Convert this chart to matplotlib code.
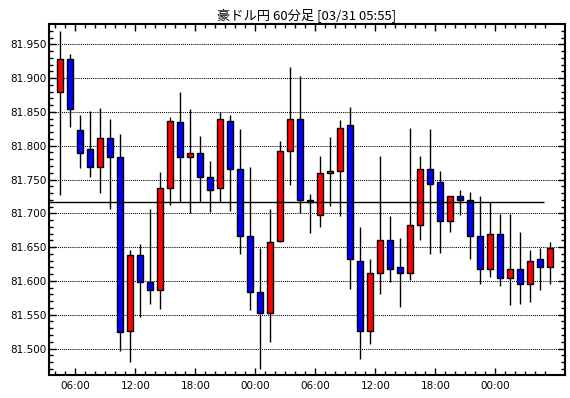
import matplotlib
matplotlib.use("Agg")
import matplotlib.pyplot as plt
from matplotlib.ticker import MultipleLocator, FixedLocator

# 60-minute candles, first one is the 04:00 hour
start_hour = 4
opens = [81.879, 81.928, 81.823, 81.795, 81.768, 81.812, 81.783, 81.526, 81.638, 81.599,
         81.587, 81.737, 81.835, 81.783, 81.789, 81.754, 81.737, 81.837, 81.765, 81.666,
         81.584, 81.552, 81.659, 81.792, 81.840, 81.720, 81.698, 81.759, 81.762, 81.830,
         81.630, 81.526, 81.611, 81.660, 81.620, 81.611, 81.682, 81.765, 81.747, 81.688,
         81.725, 81.720, 81.667, 81.618, 81.669, 81.605, 81.617, 81.596, 81.632, 81.621]
highs = [81.970, 81.935, 81.845, 81.851, 81.856, 81.839, 81.817, 81.645, 81.654, 81.707,
         81.761, 81.842, 81.879, 81.854, 81.814, 81.777, 81.850, 81.845, 81.825, 81.768,
         81.648, 81.706, 81.807, 81.916, 81.903, 81.728, 81.785, 81.813, 81.838, 81.857,
         81.680, 81.632, 81.785, 81.696, 81.663, 81.826, 81.785, 81.824, 81.762, 81.725,
         81.734, 81.731, 81.725, 81.716, 81.699, 81.699, 81.673, 81.645, 81.648, 81.657]
lows = [81.727, 81.827, 81.767, 81.753, 81.730, 81.707, 81.496, 81.480, 81.547, 81.566,
        81.559, 81.712, 81.717, 81.700, 81.717, 81.702, 81.717, 81.704, 81.640, 81.557,
        81.470, 81.510, 81.658, 81.742, 81.700, 81.671, 81.680, 81.711, 81.696, 81.588,
        81.484, 81.506, 81.580, 81.598, 81.561, 81.601, 81.660, 81.640, 81.642, 81.673,
        81.698, 81.632, 81.595, 81.606, 81.593, 81.564, 81.566, 81.569, 81.587, 81.595]
closes = [81.928, 81.855, 81.789, 81.768, 81.812, 81.783, 81.525, 81.638, 81.599, 81.587,
          81.737, 81.837, 81.783, 81.789, 81.754, 81.734, 81.839, 81.765, 81.666, 81.583,
          81.552, 81.657, 81.792, 81.840, 81.720, 81.717, 81.759, 81.762, 81.826, 81.632,
          81.526, 81.611, 81.660, 81.618, 81.611, 81.682, 81.765, 81.743, 81.688, 81.725,
          81.720, 81.667, 81.618, 81.669, 81.605, 81.617, 81.596, 81.630, 81.621, 81.649]
ref_level = 81.716
ref_end = 48.4
title = "豪ドル円 60分足 [03/31 05:55]"

plt.rcParams["font.family"] = ["DejaVu Sans"]

fig = plt.figure(figsize=(5.7, 3.98), dpi=100)
ax = fig.add_axes([49 / 570, 1 - 375 / 398, 516 / 570, (375 - 24.3) / 398])

n = len(opens)
for i in range(n):
    o, h, l, c = opens[i], highs[i], lows[i], closes[i]
    color = "#ff0000" if c >= o else "#0000ff"
    ax.vlines(i, l, h, color="black", lw=1, zorder=2)
    ax.bar(i, abs(c - o) if abs(c - o) > 0.002 else 0.002, bottom=min(o, c), width=0.62,
           color=color, edgecolor="black", lw=1, zorder=3)

ax.hlines(ref_level, -1.2, ref_end, color="black", lw=1, zorder=4)

ax.set_xlim(-1.13, 50.47)
ax.set_ylim(81.4608, 81.9796)

# hour boundaries (last hour still open, no tick after it)
bounds = [i - 0.5 for i in range(n)]
hours_at = [(start_hour + i) % 24 for i in range(n)]
major = [b for b, hh in zip(bounds, hours_at) if hh % 6 == 0]
labels = ["%02d:00" % hh for hh in hours_at if hh % 6 == 0]
ax.xaxis.set_major_locator(FixedLocator(major))
ax.set_xticklabels(labels)
ax.xaxis.set_minor_locator(FixedLocator(bounds))

ax.yaxis.set_major_locator(MultipleLocator(0.05))
ax.yaxis.set_minor_locator(MultipleLocator(0.01))
ax.yaxis.set_major_formatter(matplotlib.ticker.FormatStrFormatter("%.3f"))

ax.tick_params(which="both", direction="in", top=True, right=True, labelsize=7.5, colors="black")
ax.tick_params(which="major", length=5, width=1)
ax.tick_params(which="minor", length=3, width=1)
ax.tick_params(axis="y", pad=2)
ax.tick_params(axis="x", pad=4)

ax.grid(axis="y", which="major", linestyle=(0, (1, 1)), color="black", lw=0.75, zorder=1)
for s in ax.spines.values():
    s.set_linewidth(1.5)

ax.set_title(title, fontsize=9.5, family=["Noto Sans CJK JP", "DejaVu Sans"], pad=4)

fig.savefig("out.png", dpi=100)
